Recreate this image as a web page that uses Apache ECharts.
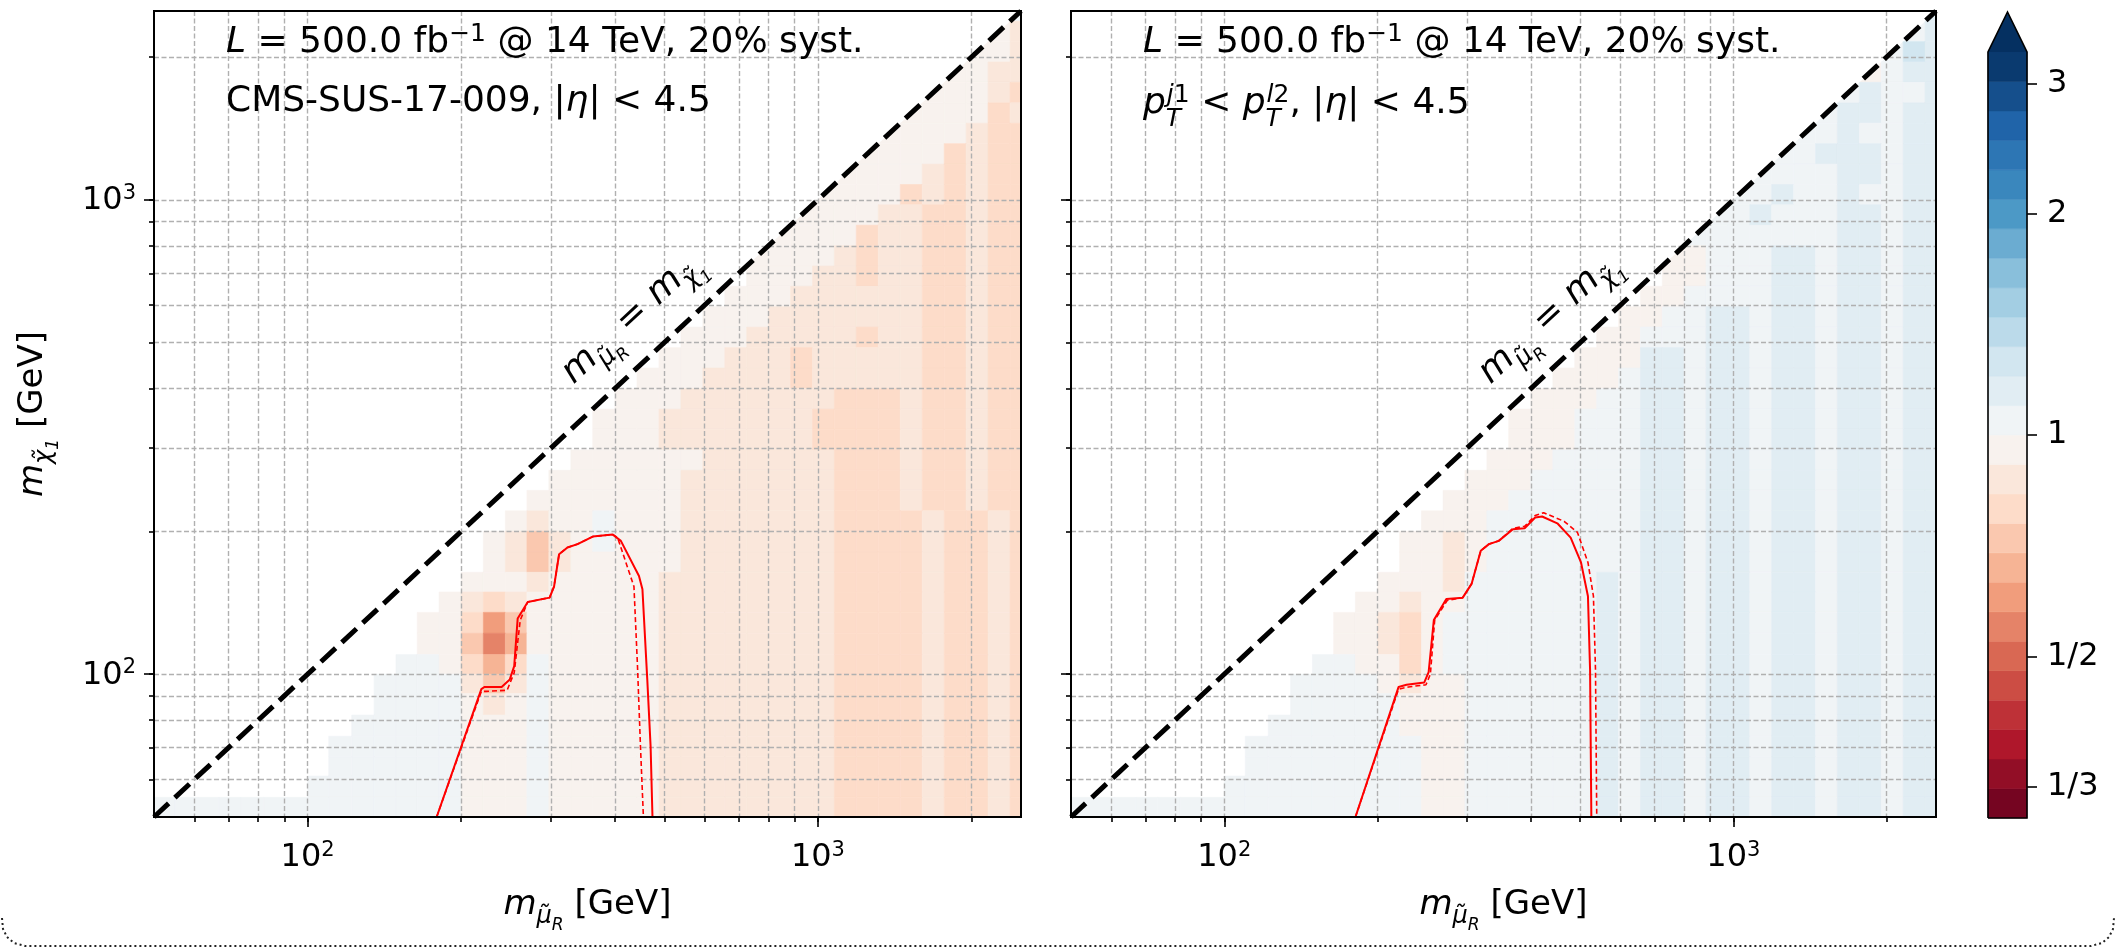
<!DOCTYPE html>
<html>
<head>
<meta charset="utf-8">
<script src="https://cdn.jsdelivr.net/npm/echarts@6/dist/echarts.min.js"></script>
<style>
  html, body { margin: 0; padding: 0; background: #fff; }
  #main { width: 2116px; height: 950px; }
</style>
</head>
<body>
<div id="main"></div>
<script>
// mass bin edges in GeV, used for both m(smuon_R) and m(chi1)
const massEdges = [50,55,61,67,74,82,91,100,110,122,135,149,164,181,200,221,244,269,297,328,362,400,
  442,488,539,595,657,725,800,884,976,1077,1189,1313,1450,1601,1768,1952,2155,2380,2500];

// colour band of each cell, rows listed from the top (high m_chi) down.
// "n:cells" -> n empty cells, then one letter per cell: a = band 0 ... z = band 25.
// upper case = only the half below the m_mu = m_chi line is filled
const leftRows = [
  "39:N",
  "38:Ml",
  "37:Mml",
  "36:Mmll",
  "35:Mmmlk",
  "34:Mmmmkl",
  "33:Mmmmlkk",
  "32:Mmmmklkk",
  "31:Mmmmlklkk",
  "30:Mmmmklklkk",
  "29:Mmmmllkklkk",
  "28:Mmmmkllkklkk",
  "27:Mmmmlkllkklkk",
  "27:mmmllkllkklkk",
  "26:mmmllllllkklkk",
  "25:mmmlllllllkklkk",
  "24:mmmlllllkllkklkk",
  "23:mmmlllklllllkklkk",
  "22:mmmllllklllllkklkk",
  "21:mmmlllllllkkklkklkk",
  "20:mmmlllllllkkkklkklkk",
  "20:mmmlllllllkkkklkklkk",
  "19:mmmmmmllllllkkklkklkk",
  "18:mmmmmmlllllllkkklkklkk",
  "17:mmmmmmmlllllllkkklkklkk",
  "16:mlmmnmmmlllllllkkkklkklk",
  "15:mljlmnmmmlllllllkkkklkklk",
  "15:mljlmmmmmlllllllkkkklkklk",
  "14:mmmlmmmmmllllllllkkkklkklk",
  "13:mlklmmmmmmllllllllkkkklkklk",
  "12:mmkhjmmmmmmllllllllkkkklkklk",
  "12:mmjgimmmmmmllllllllkkkklkklk",
  "11:nnmkiknmmmmmllllllllkkkklkklk",
  "10:nnnnljlnmmmmmllllllllkkkklkklk",
  "10:nnnnmlmnmmmmmllllllllkkkklkklk",
  "9:nnnnnmmmnmmmmmllllllllkkkklkklk",
  "8:nnnnnnmmmnmmmmmllllllllkkkklkklk",
  "8:nnnnnnmmmnmmmmmllllllllkkkklkklk",
  "7:nnnnnnnmmmnmmmmmllllllllkkkklkklk",
  "0:nnnnnnnnnnnnnnmmmnmmmmmllllllllkkkklkklk"
];
const rightRows = [
  "39:O",
  "38:No",
  "37:Npo",
  "36:Mnoo",
  "35:Nonno",
  "34:Noonoo",
  "33:Nnonnoo",
  "32:Nnooonoo",
  "31:Nnnnoonoo",
  "30:Nnonnonnoo",
  "29:Nnonnnoonoo",
  "28:Nnnnnnnoonoo",
  "27:Mmnnnoonoonoo",
  "27:mmnnnoonoonoo",
  "26:mmnnnnoonoonoo",
  "25:mmnnoonoonoonoo",
  "24:mmnnnoonoonoonoo",
  "23:mmmoonoonoonoonoo",
  "22:mmmnoonoonoonoonoo",
  "21:mmmnnoonoonoonoonoo",
  "20:mmmnnnoonoonoonoonoo",
  "20:mmmnnnoonoonoonoonoo",
  "19:mmmnnnnoonoonoonoonoo",
  "18:mmmnnnnnoonoonoonoonoo",
  "17:mmmnnnnnnoonoonoonoonoo",
  "16:mmmnnnnnnnoonoonoonoonoo",
  "15:mmlmnnnnnnnoonoonoonoonoo",
  "15:mmlmnnnnnnnoonoonoonoonoo",
  "14:mmmlnnnnnnonoonoonoonoonoo",
  "13:mmlmmnnnnnnonoonoonoonoonoo",
  "12:mmlkmnnnnnnnonoonoonoonoonoo",
  "12:mmlkmnnnnnnnonoonoonoonoonoo",
  "11:nnmmkmnnnnnnnonoonoonoonoonoo",
  "10:nnnnmlmmnnnnnnonoonoonoonoonoo",
  "10:nnnnnmmmnnnnnnonoonoonoonoonoo",
  "9:nnnnnnmmmnnnnnnonoonoonoonoonoo",
  "8:nnnnnnnnmmnnnnnnonoonoonoonoonoo",
  "8:nnnnnnnnmmnnnnnnonoonoonoonoonoo",
  "7:nnnnnnnnnmmnnnnnnonoonoonoonoonoo",
  "0:nnnnnnnnnnnnnnnnmmnnnnnnonoonoonoonoonoo"
];

// exclusion contours [m_mu, m_chi] in GeV
const leftSolid = [[179,50],[219,93],[222,94],[240,94],[249,97.5],[254,104],[258,131],[270,142],[298,145],
  [304,153],[311,179],[323,185],[338,188],[362,195],[396,197],[411,191],[446,161],[453,151],[463,97.5],[470,70.5],[474,50]];
const leftDashed = [[179,50],[219,92],[224,92],[246,92.5],[254,100.7],[261,130],[270,142],[298,145],
  [304,153],[311,179],[323,185],[338,188],[362,195],[396,197],[405,194],[436,153],[443,104],[449,70.5],[455,50]];
const rightSolid = [[181,50],[220,94],[228,95],[247,96],[252,101],[258,130],[273,144],[294,145],[306,155],
  [319,182],[331,188],[346,191],[369,202],[389,203],[408,214],[421,215],[451,208],[479,194],[502,172],
  [518,146],[523,102],[526,50]];
const rightDashed = [[181,50],[220,93],[230,94],[249,95],[254,100],[259,130],[274,143],[294,145],[306,155],
  [319,182],[331,188],[346,191],[369,203],[389,205],[408,216],[424,219],[465,210],[494,199],[518,172],
  [531,146],[536,102],[539,50]];
const diagonal = [[50,50],[2500,2500]];

// colour scale: log10 of the ratio, 26 bands
const ratioLevels = [-0.52,-0.48,-0.44,-0.40,-0.36,-0.32,-0.28,-0.24,-0.20,-0.16,-0.12,-0.08,-0.04,0,
  0.04,0.08,0.12,0.16,0.20,0.24,0.28,0.32,0.36,0.40,0.44,0.48,0.52];
const ratioTicks = [Math.log10(1/3), Math.log10(1/2), 0, Math.log10(2), Math.log10(3)];
const ratioTickLabels = ['1/3', '1/2', '1', '2', '3'];

const gridTicks = [60,70,80,90,100,200,300,400,500,600,700,800,900,1000,2000];
const decadeTicks = [100, 1000];

// RdBu colormap
const rdbuStops = ['#67001f','#b2182b','#d6604d','#f4a582','#fddbc7','#f7f7f7','#d1e5f0','#92c5de','#4393c3','#2166ac','#053061'];
function hexRgb(h) { return [1, 3, 5].map(k => parseInt(h.substr(k, 2), 16)); }
function rdbu(t) {
  const x = Math.min(Math.max(t, 0), 1) * (rdbuStops.length - 1);
  const k = Math.min(Math.floor(x), rdbuStops.length - 2);
  const f = x - k;
  const a = hexRgb(rdbuStops[k]), b = hexRgb(rdbuStops[k + 1]);
  return 'rgb(' + a.map((v, n) => Math.round(v + (b[n] - v) * f)).join(',') + ')';
}
const nBands = ratioLevels.length - 1;
const bandColors = [];
for (let i = 0; i < nBands; i++) bandColors.push(rdbu((i + 0.5) / nBands));
const overColor = rdbu(1);

const bandCodes = 'abcdefghijklmnopqrstuvwxyz';
function parseRows(rows) {
  const cells = [];
  rows.forEach((row, k) => {
    const j = rows.length - 1 - k;
    const parts = row.split(':');
    const start = +parts[0];
    const fill = parts[1];
    if (start + fill.length !== massEdges.length - 1) throw new Error('row ' + j + ' has wrong length');
    for (let c = 0; c < fill.length; c++) {
      const ch = fill[c];
      const i = start + c;
      const half = ch !== ch.toLowerCase() ? 1 : 0;
      cells.push([massEdges[i], massEdges[j], massEdges[i + 1], massEdges[j + 1], bandCodes.indexOf(ch.toLowerCase()), half]);
    }
  });
  return cells;
}

function renderCell(params, api) {
  const a = api.coord([api.value(0), api.value(1)]);
  const b = api.coord([api.value(2), api.value(3)]);
  const color = bandColors[api.value(4)];
  if (api.value(5)) {
    return { type: 'polygon', shape: { points: [[a[0], a[1]], [b[0], a[1]], [b[0], b[1]]] },
      style: { fill: color } };
  }
  return { type: 'rect', shape: { x: a[0], y: b[1], width: b[0] - a[0], height: a[1] - b[1] },
    style: { fill: color, stroke: color, lineWidth: 0.6 } };
}

const FONT = 'DejaVu Sans';
const tickRich = {
  b: { fontSize: 32, fontFamily: FONT, color: '#000', verticalAlign: 'bottom' },
  s: { fontSize: 21, fontFamily: FONT, color: '#000', verticalAlign: 'bottom', padding: [0, 0, 13, 0] }
};
const nameRich = {
  mi: { fontSize: 34, fontFamily: FONT, fontStyle: 'italic', color: '#000', verticalAlign: 'bottom', padding: [0, 0, 12, 0] },
  sb: { fontSize: 24, fontFamily: FONT, fontStyle: 'italic', color: '#000', verticalAlign: 'bottom', padding: [0, 0, 5, 0] },
  ssb: { fontSize: 17, fontFamily: FONT, fontStyle: 'italic', color: '#000', verticalAlign: 'bottom', padding: [0, 0, 0, 0] },
  t: { fontSize: 34, fontFamily: FONT, color: '#000', verticalAlign: 'bottom', padding: [0, 0, 12, 0] }
};
const xName = '{mi|m}{sb|μ\u0303}{ssb|R}{t| [GeV]}';
const yName = '{mi|m}{sb|χ\u0303}{ssb|1}{t| [GeV]}';

function gridAxis(gridIndex, position) {
  return {
    type: 'log', logBase: 10, gridIndex, position, min: 50, max: 2500, z: 2,
    axisLine: { show: false, onZero: false },
    axisTick: { show: true, customValues: gridTicks, length: 5, lineStyle: { color: '#000', width: 1.6 } },
    axisLabel: { show: false },
    splitLine: { show: true, lineStyle: { color: '#b0b0b0', width: 1.4, type: [5, 2.5] } }
  };
}
function decadeAxis(gridIndex, position, showLabels, name) {
  const ax = {
    type: 'log', logBase: 10, gridIndex, position, min: 50, max: 2500, z: 2,
    axisLine: { show: false, onZero: false },
    axisTick: { show: true, customValues: decadeTicks, length: 10, lineStyle: { color: '#000', width: 1.6 } },
    axisLabel: {
      show: showLabels, customValues: decadeTicks, margin: position === 'bottom' ? 23 : 18,
      formatter: v => '{b|10}{s|' + Math.round(Math.log10(v)) + '}', rich: tickRich
    },
    splitLine: { show: false }
  };
  if (name) {
    ax.name = name;
    ax.nameLocation = 'middle';
    ax.nameTextStyle = { rich: nameRich };
  }
  return ax;
}

const xAxes = [gridAxis(0, 'bottom'), decadeAxis(0, 'bottom', true, xName),
  gridAxis(1, 'bottom'), decadeAxis(1, 'bottom', true, xName),
  { type: 'value', gridIndex: 2, min: 0, max: 1, show: false }];
xAxes[1].nameGap = 71;
xAxes[3].nameGap = 71;
const yAxes = [gridAxis(0, 'left'), decadeAxis(0, 'left', true, yName),
  gridAxis(1, 'left'), decadeAxis(1, 'left', false),
  {
    type: 'value', gridIndex: 2, position: 'right', min: ratioLevels[0], max: ratioLevels[ratioLevels.length - 1],
    axisLine: { show: false, onZero: false },
    axisTick: { show: true, customValues: ratioTicks, length: 10, lineStyle: { color: '#000', width: 1.6 } },
    axisLabel: {
      customValues: ratioTicks, margin: 20, fontSize: 32, fontFamily: FONT, color: '#000',
      formatter: v => {
        let best = 0;
        ratioTicks.forEach((t, k) => { if (Math.abs(t - v) < Math.abs(ratioTicks[best] - v)) best = k; });
        return ratioTickLabels[best];
      }
    },
    splitLine: { show: false }
  }];
yAxes[1].nameGap = 92;
yAxes[1].nameRotate = 90;

function panelSeries(k, rows, solid, dashed) {
  return [
    { type: 'custom', xAxisIndex: 2 * k, yAxisIndex: 2 * k, z: 1, silent: true, clip: true,
      renderItem: renderCell, encode: { x: [0, 2], y: [1, 3] }, data: parseRows(rows) },
    { type: 'line', xAxisIndex: 2 * k, yAxisIndex: 2 * k, z: 3, silent: true, symbol: 'none',
      lineStyle: { color: '#ff0000', width: 2 }, data: solid },
    { type: 'line', xAxisIndex: 2 * k, yAxisIndex: 2 * k, z: 3, silent: true, symbol: 'none',
      lineStyle: { color: '#ff0000', width: 1.6, type: [5, 3] }, data: dashed },
    { type: 'line', xAxisIndex: 2 * k, yAxisIndex: 2 * k, z: 4, silent: true, symbol: 'none',
      lineStyle: { color: '#000', width: 5, type: [20, 8.5] }, data: diagonal }
  ];
}

const colorbarBands = [];
for (let i = 0; i < nBands; i++) colorbarBands.push([0, ratioLevels[i], 1, ratioLevels[i + 1], i]);

const series = [].concat(
  panelSeries(0, leftRows, leftSolid, leftDashed),
  panelSeries(1, rightRows, rightSolid, rightDashed),
  [
    { type: 'custom', xAxisIndex: 4, yAxisIndex: 4, silent: true, encode: { x: [0, 2], y: [1, 3] },
      data: colorbarBands,
      renderItem: (params, api) => {
        const a = api.coord([api.value(0), api.value(1)]);
        const b = api.coord([api.value(2), api.value(3)]);
        const color = bandColors[api.value(4)];
        return { type: 'rect', shape: { x: a[0], y: b[1], width: b[0] - a[0], height: a[1] - b[1] },
          style: { fill: color, stroke: color, lineWidth: 0.6 } };
      } },
    { type: 'custom', xAxisIndex: 4, yAxisIndex: 4, silent: true, z: 3,
      data: [[0.5, ratioLevels[ratioLevels.length - 1]]],
      renderItem: (params, api) => {
        const bl = api.coord([0, ratioLevels[0]]);
        const tr = api.coord([1, ratioLevels[ratioLevels.length - 1]]);
        const tip = [(bl[0] + tr[0]) / 2, tr[1] - 40];
        return { type: 'group', children: [
          { type: 'polygon', shape: { points: [[bl[0], tr[1]], tip, [tr[0], tr[1]]] }, style: { fill: overColor } },
          { type: 'polyline', shape: { points: [[bl[0], bl[1]], [bl[0], tr[1]], tip, [tr[0], tr[1]], [tr[0], bl[1]], [bl[0], bl[1]]] },
            style: { stroke: '#000', lineWidth: 1.6, fill: null } }
        ] };
      } }
  ]
);

const annoRich = {
  r: { fontSize: 36, fontFamily: FONT, fill: '#000', verticalAlign: 'bottom', padding: [0, 0, 10, 0] },
  i: { fontSize: 36, fontFamily: FONT, fontStyle: 'italic', fill: '#000', verticalAlign: 'bottom', padding: [0, 0, 10, 0] },
  sup: { fontSize: 25, fontFamily: FONT, fill: '#000', verticalAlign: 'bottom', padding: [0, 0, 24, 0] },
  supi: { fontSize: 25, fontFamily: FONT, fontStyle: 'italic', fill: '#000', verticalAlign: 'bottom', padding: [0, 0, 24, 0] },
  subi: { fontSize: 25, fontFamily: FONT, fontStyle: 'italic', fill: '#000', verticalAlign: 'bottom', padding: [0, 0, 0, 0], width: 1 }
};
const diagRich = {
  mi: { fontSize: 36, fontFamily: FONT, fontStyle: 'italic', fill: '#000', verticalAlign: 'bottom', padding: [0, 0, 12, 0] },
  sb: { fontSize: 25, fontFamily: FONT, fontStyle: 'italic', fill: '#000', verticalAlign: 'bottom', padding: [0, 0, 5, 0] },
  ssb: { fontSize: 17, fontFamily: FONT, fontStyle: 'italic', fill: '#000', verticalAlign: 'bottom', padding: [0, 0, 0, 0] },
  r: { fontSize: 36, fontFamily: FONT, fill: '#000', verticalAlign: 'bottom', padding: [0, 0, 12, 0] }
};
const lumiText = '{i|L}{r| = 500.0 fb}{sup|\u22121}{r| @ 14 TeV, 20% syst.}';
const leftCut = '{r|CMS-SUS-17-009, |}{i|η}{r|| < 4.5}';
const rightCut = '{i|p}{subi|T}{supi|j}{sup|1}{r| < }{i|p}{subi|T}{supi|l}{sup|2}{r|, |}{i|η}{r|| < 4.5}';
const diagText = '{mi|m}{sb|μ\u0303}{ssb|R}{r| = }{mi|m}{sb|χ\u0303}{ssb|1}';

function textEl(x, y, text, rich, rotation) {
  return { type: 'text', x, y, z: 10, rotation: rotation || 0, silent: true,
    style: { text, rich, fill: '#000', fontFamily: FONT, fontSize: 36, align: rotation ? 'center' : 'left', verticalAlign: 'middle' } };
}
const diagAngle = 42.8 * Math.PI / 180;

const chart = echarts.init(document.getElementById('main'));
chart.setOption({
  animation: false,
  backgroundColor: '#fff',
  grid: [
    { left: 154, top: 11, width: 867, height: 806, show: true, borderColor: '#000', borderWidth: 2, backgroundColor: 'transparent', z: 5 },
    { left: 1071, top: 11, width: 865, height: 806, show: true, borderColor: '#000', borderWidth: 2, backgroundColor: 'transparent', z: 5 },
    { left: 1988, top: 52, width: 39, height: 766, show: false }
  ],
  xAxis: xAxes,
  yAxis: yAxes,
  series,
  graphic: [
    textEl(226, 46, lumiText, annoRich),
    textEl(226, 107, leftCut, annoRich),
    textEl(1143, 46, lumiText, annoRich),
    textEl(1143, 107, rightCut, annoRich),
    textEl(636, 322, diagText, diagRich, diagAngle),
    textEl(1553, 322, diagText, diagRich, diagAngle),
    { type: 'polyline', silent: true, z: 10,
      shape: { points: [[2, 918], [3, 929], [7, 937], [14, 943], [25, 946], [2091, 946], [2102, 943], [2109, 937], [2113, 929], [2114, 918]] },
      style: { stroke: '#222', lineWidth: 2, lineDash: [2, 3], fill: null } }
  ]
});
</script>
</body>
</html>
